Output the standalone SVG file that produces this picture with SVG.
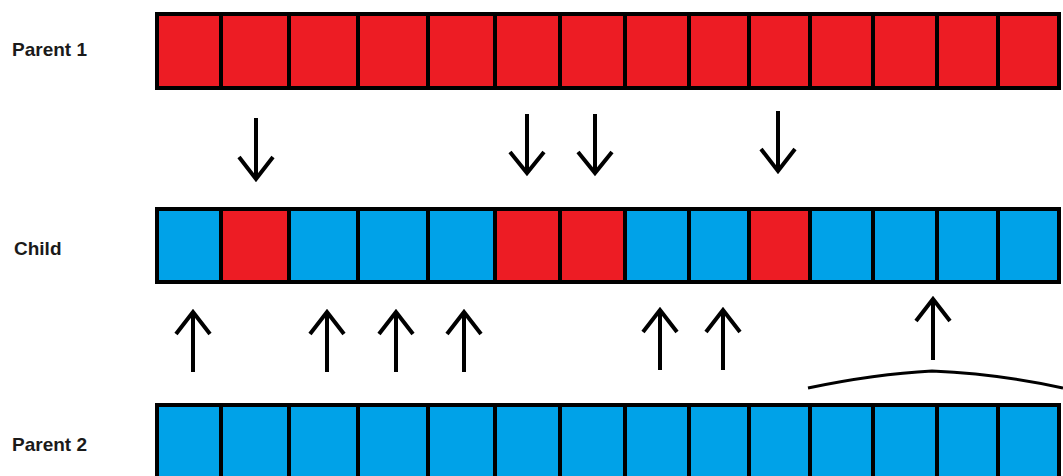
<svg xmlns="http://www.w3.org/2000/svg" width="1063" height="476" viewBox="0 0 1063 476">
<style>
.lbl{font-family:"Liberation Sans",Arial,sans-serif;font-weight:bold;font-size:19px;fill:#1a1a1a}
.r{fill:#ED1C24;stroke:#000;stroke-width:4}
.b{fill:#00A2E8;stroke:#000;stroke-width:4}
.arr{fill:none;stroke:#000;stroke-width:4;stroke-linecap:butt;stroke-linejoin:miter}
.brace{fill:none;stroke:#000;stroke-width:3}
</style>
<rect width="1063" height="476" fill="#fff"/>
<g id="parent1">
<text class="lbl" x="12" y="56">Parent 1</text>
<rect class="r" x="157" y="14" width="64" height="74"/>
<rect class="r" x="221" y="14" width="68" height="74"/>
<rect class="r" x="289" y="14" width="69" height="74"/>
<rect class="r" x="358" y="14" width="70" height="74"/>
<rect class="r" x="428" y="14" width="67" height="74"/>
<rect class="r" x="495" y="14" width="65" height="74"/>
<rect class="r" x="560" y="14" width="65" height="74"/>
<rect class="r" x="625" y="14" width="64" height="74"/>
<rect class="r" x="689" y="14" width="60" height="74"/>
<rect class="r" x="749" y="14" width="61" height="74"/>
<rect class="r" x="810" y="14" width="63" height="74"/>
<rect class="r" x="873" y="14" width="64" height="74"/>
<rect class="r" x="937" y="14" width="61" height="74"/>
<rect class="r" x="998" y="14" width="61" height="74"/>
</g>
<g id="child">
<text class="lbl" x="14" y="255">Child</text>
<rect class="b" x="157" y="209" width="64" height="73"/>
<rect class="r" x="221" y="209" width="68" height="73"/>
<rect class="b" x="289" y="209" width="69" height="73"/>
<rect class="b" x="358" y="209" width="70" height="73"/>
<rect class="b" x="428" y="209" width="67" height="73"/>
<rect class="r" x="495" y="209" width="65" height="73"/>
<rect class="r" x="560" y="209" width="65" height="73"/>
<rect class="b" x="625" y="209" width="64" height="73"/>
<rect class="b" x="689" y="209" width="60" height="73"/>
<rect class="r" x="749" y="209" width="61" height="73"/>
<rect class="b" x="810" y="209" width="63" height="73"/>
<rect class="b" x="873" y="209" width="64" height="73"/>
<rect class="b" x="937" y="209" width="61" height="73"/>
<rect class="b" x="998" y="209" width="61" height="73"/>
</g>
<g id="parent2">
<text class="lbl" x="12" y="451">Parent 2</text>
<rect class="b" x="157" y="405" width="64" height="90"/>
<rect class="b" x="221" y="405" width="68" height="90"/>
<rect class="b" x="289" y="405" width="69" height="90"/>
<rect class="b" x="358" y="405" width="70" height="90"/>
<rect class="b" x="428" y="405" width="67" height="90"/>
<rect class="b" x="495" y="405" width="65" height="90"/>
<rect class="b" x="560" y="405" width="65" height="90"/>
<rect class="b" x="625" y="405" width="64" height="90"/>
<rect class="b" x="689" y="405" width="60" height="90"/>
<rect class="b" x="749" y="405" width="61" height="90"/>
<rect class="b" x="810" y="405" width="63" height="90"/>
<rect class="b" x="873" y="405" width="64" height="90"/>
<rect class="b" x="937" y="405" width="61" height="90"/>
<rect class="b" x="998" y="405" width="61" height="90"/>
</g>
<g id="connectors">
<path class="arr" d="M256,118V179M239,157L256,179L273,157"/>
<path class="arr" d="M527,114V173M510,152L527,173L544,152"/>
<path class="arr" d="M595,114V173M578,152L595,173L612,152"/>
<path class="arr" d="M778,111V171M761,149L778,171L795,149"/>
<path class="arr" d="M193,372V312M176,334L193,312L210,334"/>
<path class="arr" d="M327,372V312M310,334L327,312L344,334"/>
<path class="arr" d="M396,372V312M379,334L396,312L413,334"/>
<path class="arr" d="M464,372V312M447,334L464,312L481,334"/>
<path class="arr" d="M660,370V310M643,332L660,310L677,332"/>
<path class="arr" d="M723,370V310M706,332L723,310L740,332"/>
<path class="arr" d="M933,360V299M916,321L933,299L950,321"/>
<path class="brace" d="M808,388Q875,374 932,371Q1000,374 1063,388"/>
</g>
</svg>
